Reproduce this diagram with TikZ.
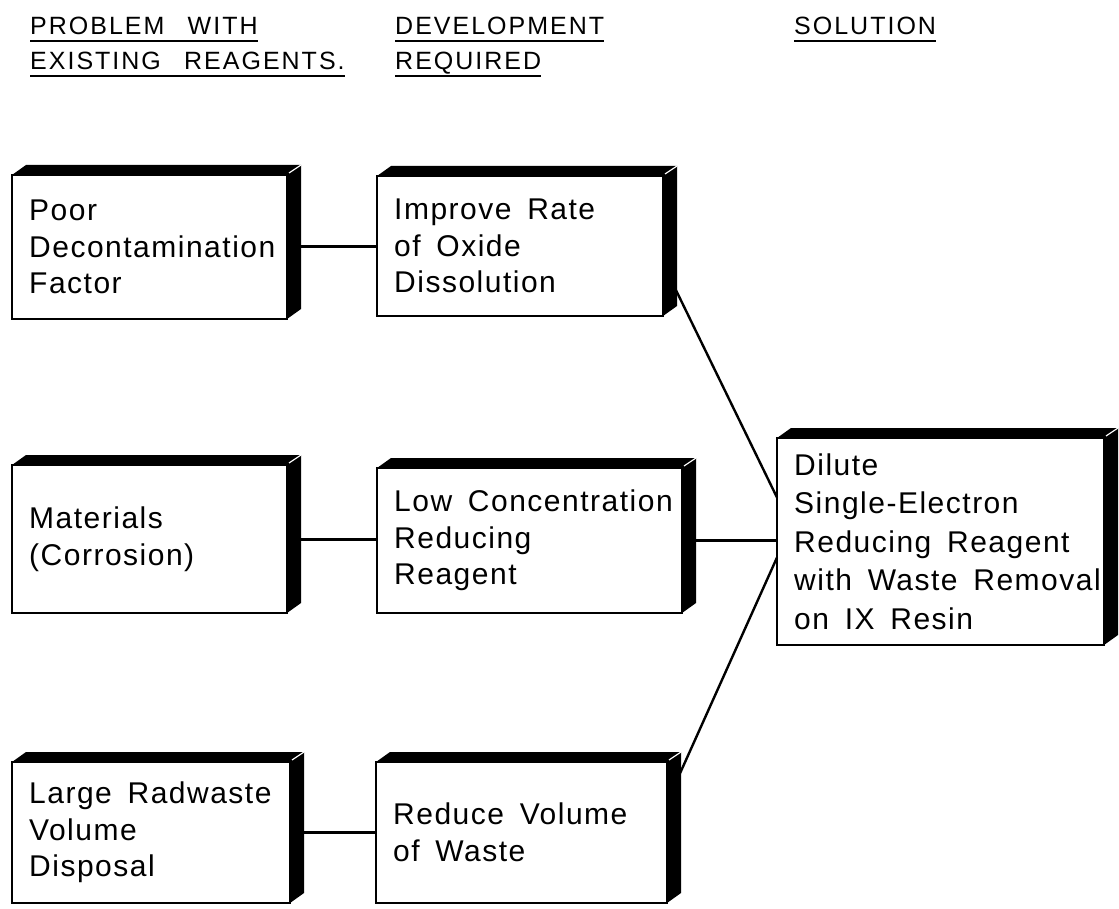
\documentclass[tikz,border=0pt]{standalone}
\usepackage{fontspec}
\setmainfont{Liberation Sans}
\newfontfamily\bodyfont[LetterSpace=5,WordSpace=1.6]{Liberation Sans}
\newfontfamily\headfont[LetterSpace=8,WordSpace=2.6]{Liberation Sans}
\usetikzlibrary{calc}
\def\dx{14}
\def\dy{-10}
\tikzset{
  blk/.style={draw, line width=2.8pt, rectangle, inner sep=0pt, outer sep=0pt, anchor=north west},
  txt/.style={anchor=west, align=left, inner sep=0pt, font=\bodyfont\fontsize{30}{36.5}\selectfont},
  hd/.style={anchor=base west, inner sep=0pt, font=\headfont\fontsize{25}{30}\selectfont},
  ul/.style={line width=2.6pt},
  conn/.style={line width=3pt},
  slant/.style={line width=2.4pt}
}
\newcommand\solidbox[6]{%
  \node[blk, minimum width=#4pt, minimum height=#5pt] (#1) at (#2,#3) {};
  \fill (#1.north west) -- ([shift={(\dx,\dy)}]#1.north west) -- ([shift={(\dx,\dy)}]#1.north east) -- ([shift={(\dx,\dy)}]#1.south east) -- (#1.south east) -- (#1.north east) -- cycle;
  \draw[white, line width=1.2pt] ([shift={(2,-2)}]#1.north east) -- ([shift={(\dx,\dy)}]#1.north east);
  \node[txt] (#1-text) at ([xshift=17pt]#1.west) {#6};
}
\begin{document}
\begin{tikzpicture}[x=1pt,y=-1pt]
\useasboundingbox[fill=white] (0,0) rectangle (1119,909);
% headers
\node[hd] (h1) at (30,35) {PROBLEM WITH};
\node[hd] (h2) at (30,70) {EXISTING REAGENTS.};
\node[hd] (h3) at (395,35) {DEVELOPMENT};
\node[hd] (h4) at (395,70) {REQUIRED};
\node[hd] (h5) at (794,35) {SOLUTION};
\foreach \h in {h1,h2,h3,h4,h5}{
  \draw[ul] ([yshift=-6pt]\h.base west) -- ([yshift=-6pt]\h.base east);
}
% boxes
\solidbox{a1}{12}{175}{275}{144}{Poor\\Decontamination\\Factor}
\solidbox{b1}{377}{176}{286}{140}{Improve Rate\\of Oxide\\Dissolution}
\solidbox{a2}{12}{465}{275}{148}{Materials\\(Corrosion)}
\solidbox{b2}{377}{468}{305}{145}{Low Concentration\\Reducing\\Reagent}
\solidbox{a3}{12}{762}{278}{141}{Large Radwaste\\Volume\\Disposal}
\solidbox{b3}{376}{762}{291}{141}{Reduce Volume\\of Waste}
\solidbox{c}{777}{438}{327}{207}{Dilute\\[2pt]Single-Electron\\[2pt]Reducing Reagent\\[2pt]with Waste Removal\\[2pt]on IX Resin}
% connectors
\draw[conn] (a1.east) -- (a1.east -| b1.west);
\draw[conn] (a2.east) -- (a2.east -| b2.west);
\draw[conn] (a3.east) -- (a3.east -| b3.west);
\coordinate (b1s) at ([shift={(9,-34)}]b1.south east);
\coordinate (cin1) at ([shift={(0,-44)}]c.west);
\coordinate (b3s) at ([shift={(10,18)}]b3.north east);
\coordinate (cin3) at ([shift={(0,16)}]c.west);
\draw[slant] (b1s) -- (cin1);
\draw[conn] (b2.east) -- (b2.east -| c.west);
\draw[slant] (b3s) -- (cin3);
\end{tikzpicture}
\end{document}
